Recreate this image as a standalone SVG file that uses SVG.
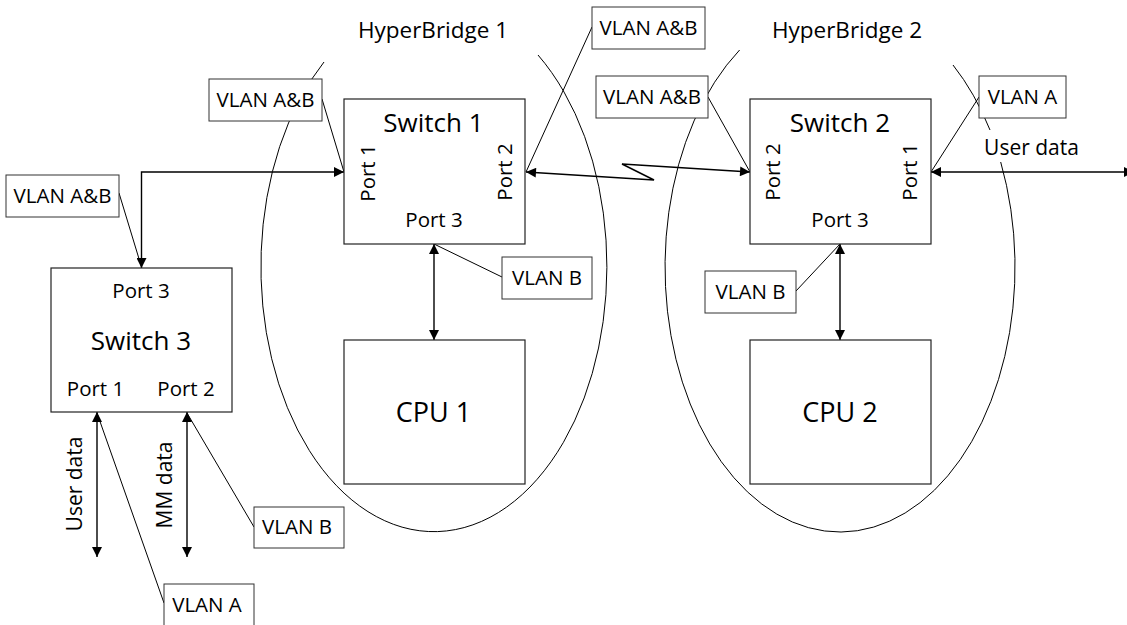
<svg xmlns="http://www.w3.org/2000/svg" width="1127" height="625" viewBox="0 0 1127 625">
<style>
text{font-family:"Open Sans","Noto Sans",sans-serif;fill:#000}
.box{fill:#fff;stroke:#222;stroke-width:1.2}
.lbl{fill:#fff;stroke:#333;stroke-width:1}
.t20{font-size:20.5px;text-anchor:middle}
.t21{font-size:21px;text-anchor:middle}
.sw{font-size:26px;text-anchor:middle}
.cpu{font-size:27px;text-anchor:middle}
.hb{font-size:22.5px;text-anchor:middle}
.ell{fill:none;stroke:#000;stroke-width:1}
.arr{fill:none;stroke:#000;stroke-width:1.4;marker-start:url(#ah);marker-end:url(#ah)}
.call{fill:none;stroke:#000;stroke-width:1}
</style>
<defs>
<marker id="ah" viewBox="0 0 10 10" refX="10" refY="5" markerWidth="11" markerHeight="10" markerUnits="userSpaceOnUse" orient="auto-start-reverse">
<path d="M0,0 L10,5 L0,10 z" fill="#000"/>
</marker>
</defs>

<g id="hyperbridge1">
<path class="ell" d="M324,62 A173,265 0 1 0 538,55"/>
<text class="hb" x="433" y="38">HyperBridge 1</text>
</g>
<g id="hyperbridge2">
<path class="ell" d="M739.6,50 A175,265 0 1 0 1000.7,162"/>
<path class="ell" d="M990,130 A175,265 0 0 0 953,65"/>
<text class="hb" x="847" y="38">HyperBridge 2</text>
</g>

<g id="connectors">
<polyline class="arr" points="141.5,268 141.5,172 344,172"/>
<polyline class="arr" points="526,172 654,180 622,164 750,172"/>
<line class="arr" x1="931" y1="172" x2="1134" y2="172"/>
<line class="arr" x1="434" y1="244" x2="434" y2="340"/>
<line class="arr" x1="840" y1="244" x2="840" y2="340"/>
<line class="arr" x1="97" y1="412" x2="97" y2="557"/>
<line class="arr" x1="187" y1="412" x2="187" y2="557"/>
<line class="call" x1="119" y1="193" x2="141.5" y2="267"/>
<line class="call" x1="322" y1="99" x2="344" y2="172"/>
<line class="call" x1="592" y1="27" x2="526" y2="172"/>
<line class="call" x1="708" y1="97" x2="750" y2="172"/>
<line class="call" x1="979" y1="97" x2="931" y2="172"/>
<line class="call" x1="502" y1="277" x2="434" y2="244"/>
<line class="call" x1="796" y1="291" x2="840" y2="244"/>
<line class="call" x1="254" y1="527" x2="187" y2="413"/>
<line class="call" x1="164" y1="603" x2="97" y2="413"/>
</g>

<g id="switch1">
<rect class="box" x="344" y="99" width="181" height="145"/>
<text class="sw" x="433.5" y="132">Switch 1</text>
<text class="t20" transform="translate(375,173) rotate(-90)">Port 1</text>
<text class="t20" transform="translate(512,172) rotate(-90)">Port 2</text>
<text class="t20" x="434" y="227">Port 3</text>
</g>
<g id="switch2">
<rect class="box" x="750" y="99" width="181" height="145"/>
<text class="sw" x="840" y="132">Switch 2</text>
<text class="t20" transform="translate(780,172) rotate(-90)">Port 2</text>
<text class="t20" transform="translate(917,172) rotate(-90)">Port 1</text>
<text class="t20" x="840" y="227">Port 3</text>
</g>
<g id="switch3">
<rect class="box" x="51" y="268" width="181" height="144"/>
<text class="t20" x="141" y="298">Port 3</text>
<text class="sw" x="141" y="350">Switch 3</text>
<text class="t20" x="95.5" y="395.5">Port 1</text>
<text class="t20" x="186" y="395.5">Port 2</text>
</g>
<g id="cpu1">
<rect class="box" x="344" y="340" width="181" height="144"/>
<text class="cpu" x="433.5" y="421.5">CPU 1</text>
</g>
<g id="cpu2">
<rect class="box" x="750" y="340" width="181" height="144"/>
<text class="cpu" x="840" y="421.5">CPU 2</text>
</g>

<g id="vlan-ab-s3">
<rect class="lbl" x="6" y="175" width="113" height="42"/>
<text class="t20" x="62.5" y="202.5">VLAN A&amp;B</text>
</g>
<g id="vlan-ab-s1p1">
<rect class="lbl" x="209" y="79" width="113" height="42"/>
<text class="t20" x="265.5" y="106.5">VLAN A&amp;B</text>
</g>
<g id="vlan-ab-s1p2">
<rect class="lbl" x="592" y="7" width="113" height="42"/>
<text class="t20" x="648.5" y="34.5">VLAN A&amp;B</text>
</g>
<g id="vlan-ab-s2p2">
<rect class="lbl" x="596" y="76" width="112" height="42"/>
<text class="t20" x="652" y="103.5">VLAN A&amp;B</text>
</g>
<g id="vlan-a-s2p1">
<rect class="lbl" x="979" y="76" width="87" height="42"/>
<text class="t20" x="1022.5" y="103.5">VLAN A</text>
</g>
<g id="user-data-s2">
<text class="t21" x="1031.5" y="155">User data</text>
</g>
<g id="vlan-b-s1p3">
<rect class="lbl" x="502" y="257" width="90" height="42"/>
<text class="t20" x="547" y="284.5">VLAN B</text>
</g>
<g id="vlan-b-s2p3">
<rect class="lbl" x="705" y="271" width="91" height="42"/>
<text class="t20" x="750.5" y="298.5">VLAN B</text>
</g>
<g id="vlan-b-s3p2">
<rect class="lbl" x="254" y="507" width="90" height="41"/>
<text class="t20" x="297" y="534">VLAN B</text>
</g>
<g id="vlan-a-s3p1">
<rect class="lbl" x="164" y="584" width="90" height="42"/>
<text class="t20" x="207" y="611.5">VLAN A</text>
</g>
<g id="user-data-s3">
<text class="t21" transform="translate(81.5,484) rotate(-90)">User data</text>
</g>
<g id="mm-data-s3">
<text class="t21" transform="translate(172,485) rotate(-90)">MM data</text>
</g>
</svg>
